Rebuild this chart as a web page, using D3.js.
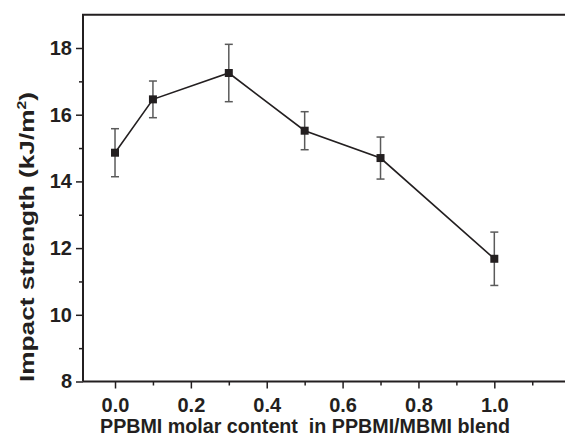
<!DOCTYPE html>
<html><head><meta charset="utf-8">
<script src="https://cdn.jsdelivr.net/npm/d3@7"></script>
<style>body{margin:0;background:#fff}svg{display:block}</style>
</head><body><svg id="c" width="565" height="437"></svg>
<script>
const xValues = [0.0, 0.1, 0.3, 0.5, 0.7, 1.0];
const impact = [14.86, 16.46, 17.25, 15.52, 14.70, 11.68];
const errors = [0.72, 0.55, 0.86, 0.57, 0.63, 0.80];
const xTicks = [0.0, 0.2, 0.4, 0.6, 0.8, 1.0];
const xMinor = [0.1, 0.3, 0.5, 0.7, 0.9, 1.1];
const yTicks = [8, 10, 12, 14, 16, 18];
const yMinor = [9, 11, 13, 15, 17];
const xTitle = "PPBMI molar content  in PPBMI/MBMI blend";

const svg = d3.select("#c");
const ink = "#231f20";
const x = d3.scaleLinear().domain([-0.0844, 1.2]).range([83, 83 + 1.2844 * 379.3]);
const y = d3.scaleLinear().domain([8, 19]).range([381.5, 381.5 - 11 * 33.35]);
const font = "'Liberation Sans', Arial, sans-serif";

// minor ticks
const gx = svg.append("g").attr("transform", `translate(0,${y(8)})`);
gx.call(d3.axisBottom(x).tickValues(xMinor).tickSize(4).tickFormat(""));
const gxm = svg.append("g").attr("transform", `translate(0,${y(8)})`);
gxm.call(d3.axisBottom(x).tickValues(xTicks).tickSize(7).tickPadding(9).tickFormat(d3.format(".1f")));
const gy = svg.append("g").attr("transform", `translate(${x(-0.0844)},0)`);
gy.call(d3.axisLeft(y).tickValues(yMinor).tickSize(4).tickFormat(""));
const gym = svg.append("g").attr("transform", `translate(${x(-0.0844)},0)`);
gym.call(d3.axisLeft(y).tickValues(yTicks).tickSize(7).tickPadding(4).tickFormat(d3.format("d")));
[gx, gxm, gy, gym].forEach(g => {
  g.selectAll("path.domain").remove();
  g.selectAll("line").attr("stroke", ink).attr("stroke-width", 1.5);
  g.selectAll("text").attr("fill", ink).style("font-family", font)
    .style("font-weight", "bold").style("font-size", "20px");
});
gxm.selectAll("text").attr("dy", "0.71em");

// frame lines (left, bottom, top)
const x0 = x(-0.0844), xEnd = 565, yT = y(19), yB = y(8);
svg.append("path").attr("d", `M${x0},${yB}V${yT}H${xEnd}M${x0},${yB}H${xEnd}`)
  .attr("fill", "none").attr("stroke", ink).attr("stroke-width", 2);

// error bars
const eb = svg.append("g").attr("stroke", "#5a5a5a").attr("stroke-width", 1.5);
xValues.forEach((xv, i) => {
  const cx = x(xv), top = y(impact[i] + errors[i]), bot = y(impact[i] - errors[i]);
  eb.append("line").attr("x1", cx).attr("x2", cx).attr("y1", top).attr("y2", bot);
  eb.append("line").attr("x1", cx - 4).attr("x2", cx + 4).attr("y1", top).attr("y2", top);
  eb.append("line").attr("x1", cx - 4).attr("x2", cx + 4).attr("y1", bot).attr("y2", bot);
});

// line
svg.append("path").datum(xValues.map((v, i) => [v, impact[i]]))
  .attr("d", d3.line().x(d => x(d[0])).y(d => y(d[1])))
  .attr("fill", "none").attr("stroke", ink).attr("stroke-width", 1.6);

// markers
svg.append("g").selectAll("rect").data(xValues).join("rect")
  .attr("x", (d) => x(d) - 4).attr("y", (d, i) => y(impact[i]) - 4)
  .attr("width", 8).attr("height", 8).attr("fill", ink);

// axis titles
svg.append("text").attr("x", 305).attr("y", 433).attr("text-anchor", "middle")
  .attr("fill", ink).style("font-family", font).style("font-weight", "bold").style("font-size", "20px")
  .style("white-space", "pre")
  .attr("textLength", 410).attr("lengthAdjust", "spacingAndGlyphs")
  .text(xTitle);

const yt = svg.append("text").attr("transform", "translate(34,237) rotate(-90)")
  .attr("text-anchor", "middle").attr("fill", ink)
  .style("font-family", font).style("font-weight", "bold").style("font-size", "20px")
  .attr("textLength", 290).attr("lengthAdjust", "spacingAndGlyphs");
yt.append("tspan").text("Impact strength (kJ/m");
yt.append("tspan").attr("dy", -8).style("font-size", "12px").text("2");
yt.append("tspan").attr("dy", 8).text(")");
</script></body></html>
